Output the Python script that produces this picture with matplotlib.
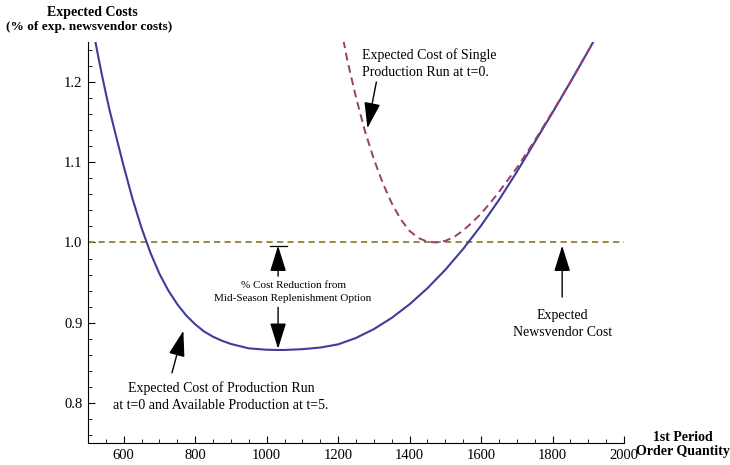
import matplotlib.pyplot as plt
from matplotlib.ticker import MultipleLocator

order_qty = [520, 530, 540, 550, 560, 575, 600, 625, 650, 675, 700, 725, 750, 775,
             800, 825, 850, 875, 900, 950, 1000, 1030, 1050, 1100, 1150, 1200, 1250, 1300,
             1350, 1400, 1450, 1500, 1550, 1600, 1650, 1700, 1750, 1800, 1850,
             1900, 1915]
cost_two_runs = [1.252, 1.229, 1.207, 1.186, 1.166, 1.139, 1.095, 1.054, 1.018, 0.987,
                 0.961, 0.940, 0.923, 0.909, 0.898, 0.889, 0.8825, 0.8775, 0.8735, 0.868,
                 0.8663, 0.866, 0.866, 0.867, 0.869, 0.873, 0.881, 0.892, 0.906, 0.923,
                 0.943, 0.966, 0.992, 1.021, 1.053, 1.088, 1.125, 1.162, 1.200,
                 1.239, 1.251]

single_qty = [1215, 1225, 1250, 1275, 1300, 1325, 1350, 1375, 1400, 1425, 1450, 1475,
              1500, 1525, 1550, 1575, 1600, 1625, 1650, 1675, 1700, 1750, 1800, 1850,
              1900, 1915]
cost_single_run = [1.252, 1.229, 1.181, 1.139, 1.104, 1.074, 1.049, 1.029, 1.0145, 1.0055,
                   1.001, 1.000, 1.002, 1.007, 1.015, 1.025, 1.036, 1.049, 1.063, 1.078,
                   1.093, 1.127, 1.163, 1.200, 1.239, 1.251]

newsvendor_level = 1.0
x_ticks = [600, 800, 1000, 1200, 1400, 1600, 1800, 2000]
y_ticks = [0.8, 0.9, 1.0, 1.1, 1.2]

plt.rcParams['font.family'] = ['Liberation Serif', 'DejaVu Serif']

fig = plt.figure(figsize=(7.3, 4.65), dpi=100)
ax = fig.add_axes([0.1205, 0.0473, 0.7343, 0.8624])

ax.axhline(newsvendor_level, color='#9b8a3b', lw=1.4, ls=(0, (3.2, 2.2)))
ax.plot(order_qty, cost_two_runs, color='#3f3d99', lw=1.5)
ax.plot(single_qty, cost_single_run, color='#993d70', lw=1.4, ls=(0, (4, 2.5)))

ax.set_xlim(500, 2000)
ax.set_ylim(0.75, 1.25)
ax.set_xticks(x_ticks)
ax.set_yticks(y_ticks)
ax.set_yticklabels(['%.1f' % v for v in y_ticks])
ax.xaxis.set_minor_locator(MultipleLocator(50))
ax.yaxis.set_minor_locator(MultipleLocator(0.02))
ax.tick_params(which='major', direction='in', length=5, width=0.8, labelsize=10.5, pad=4)
ax.tick_params(which='minor', direction='in', length=3, width=0.6)
ax.spines['top'].set_visible(False)
ax.spines['right'].set_visible(False)

fig.text(0.126, 0.973, 'Expected Costs', ha='center', va='center', fontsize=10, fontweight='bold')
fig.text(0.008, 0.941, '(% of exp. newsvendor costs)', ha='left', va='center', fontsize=9.6,
         fontweight='bold')
fig.text(0.936, 0.06, '1st Period', ha='center', va='center', fontsize=10, fontweight='bold')
fig.text(0.936, 0.028, 'Order Quantity', ha='center', va='center', fontsize=10, fontweight='bold')

head = dict(arrowstyle='-|>,head_length=1.6,head_width=0.5', color='black', lw=1,
            mutation_scale=10, shrinkA=0, shrinkB=0)

ax.text(1267, 1.223, 'Expected Cost of Single\nProduction Run at t=0.', ha='left', va='center',
        fontsize=10, linespacing=1.35)
ax.annotate('', xy=(1282, 1.1425), xytext=(1307, 1.2), arrowprops=head)

ax.text(1074, 0.938, '% Cost Reduction from\nMid-Season Replenishment Option', ha='center',
        va='center', fontsize=8, linespacing=1.5)
ax.annotate('', xy=(1032, 0.996), xytext=(1032, 0.958), arrowprops=head)
ax.annotate('', xy=(1032, 0.8675), xytext=(1032, 0.919), arrowprops=head)
ax.plot([1009, 1057], [0.996, 0.996], color='black', lw=0.9)

ax.text(1827, 0.899, 'Expected\nNewsvendor Cost', ha='center', va='center', fontsize=10,
        linespacing=1.4)
ax.annotate('', xy=(1827, 0.996), xytext=(1827, 0.932), arrowprops=head)

ax.text(872, 0.8075, 'Expected Cost of Production Run\nat t=0 and Available Production at t=5.',
        ha='center', va='center', fontsize=10, linespacing=1.4)
ax.annotate('', xy=(767, 0.89), xytext=(735, 0.8375), arrowprops=head)

plt.savefig('out.png', dpi=100)
